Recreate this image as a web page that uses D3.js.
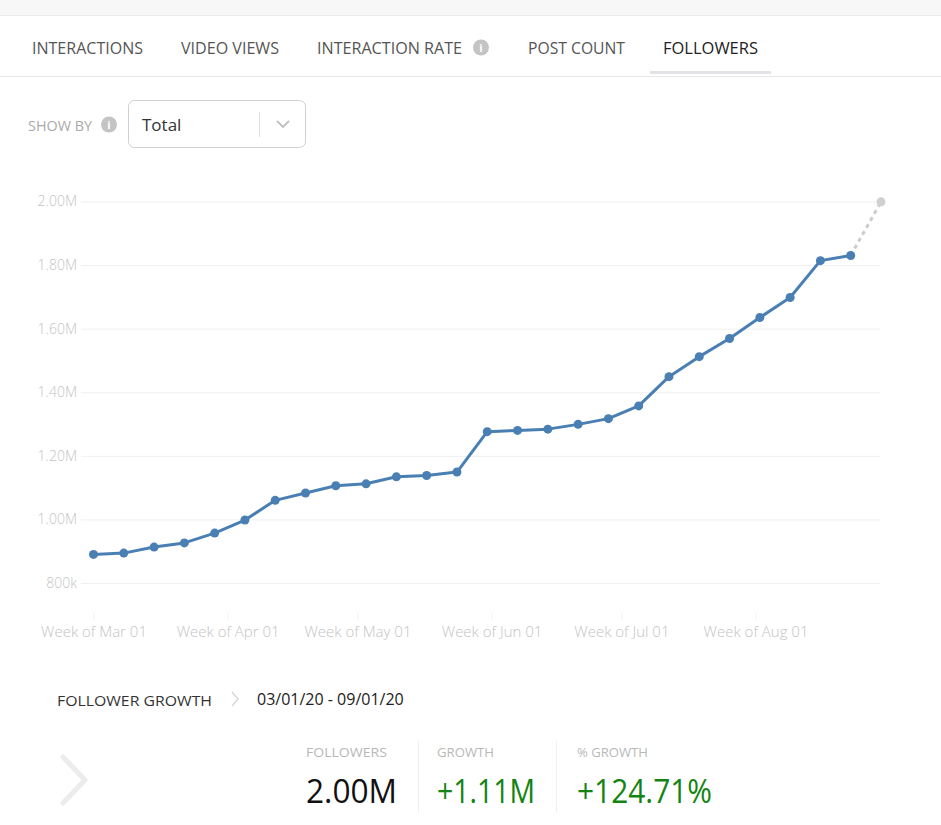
<!DOCTYPE html>
<html><head><meta charset="utf-8">
<script src="https://cdn.jsdelivr.net/npm/d3@7"></script>
<style>
html,body{margin:0;padding:0;background:#fff;}
svg{display:block;font-family:"Open Sans",sans-serif;}
</style></head>
<body>
<svg id="c" width="941" height="825"></svg>
<script>
// ---- data ----
const weekStarts = ["2020-03-01","2020-03-08","2020-03-15","2020-03-22","2020-03-29","2020-04-05","2020-04-12","2020-04-19","2020-04-26","2020-05-03","2020-05-10","2020-05-17","2020-05-24","2020-05-31","2020-06-07","2020-06-14","2020-06-21","2020-06-28","2020-07-05","2020-07-12","2020-07-19","2020-07-26","2020-08-02","2020-08-09","2020-08-16","2020-08-23"];
const followers = [890000,894000,913000,926000,957000,998000,1060000,1083000,1106000,1112000,1134000,1138000,1149000,1276000,1280000,1284000,1299000,1317000,1357000,1449000,1512000,1569000,1635000,1698000,1814000,1830000];
const projectedDate = "2020-08-30";
const projectedValue = 1999000;
const yTicks = [800000,1000000,1200000,1400000,1600000,1800000,2000000];
const xTickDates = ["2020-03-01","2020-04-01","2020-05-01","2020-06-01","2020-07-01","2020-08-01"];
const tabs = ["INTERACTIONS","VIDEO VIEWS","INTERACTION RATE","POST COUNT","FOLLOWERS"];
const statLabels = ["FOLLOWERS","GROWTH","% GROWTH"];
const statValues = ["2.00M","+1.11M","+124.71%"];

const parse = d3.timeParse("%Y-%m-%d");
const svg = d3.select("#c");

// ---- top chrome ----
svg.append("rect").attr("x",0).attr("y",0).attr("width",941).attr("height",15).attr("fill","#f7f7f7");
svg.append("line").attr("x1",0).attr("x2",941).attr("y1",15.5).attr("y2",15.5).attr("stroke","#ebebeb");
svg.append("line").attr("x1",0).attr("x2",941).attr("y1",76.5).attr("y2",76.5).attr("stroke","#e8e8e8");

const tabX = [32,181,317,528,663];
const tabW = [111,98,145,97,95];
tabs.forEach((t,i)=>{
  svg.append("text").attr("x",tabX[i]).attr("y",54).attr("font-size",16)
    .attr("textLength",tabW[i]).attr("lengthAdjust","spacingAndGlyphs")
    .attr("fill", i===4 ? "#222" : "#555").text(t);
});
function infoIcon(cx,cy,r){
  svg.append("circle").attr("cx",cx).attr("cy",cy).attr("r",r).attr("fill","#c4c4c4");
  svg.append("text").attr("x",cx).attr("y",cy+4).attr("text-anchor","middle").attr("font-size",11)
    .attr("font-weight","bold").attr("fill","#fff").text("i");
}
infoIcon(481,47.5,8);
svg.append("rect").attr("x",650).attr("y",71).attr("width",121).attr("height",3).attr("fill","#e1e3e7");

// show by
svg.append("text").attr("x",28).attr("y",131).attr("font-size",14).attr("fill","#aaa")
  .attr("textLength",64).attr("lengthAdjust","spacingAndGlyphs").text("SHOW BY");
infoIcon(109,124.5,8);
svg.append("rect").attr("x",128.5).attr("y",100.5).attr("width",177).attr("height",47).attr("rx",6)
  .attr("fill","#fff").attr("stroke","#cfcfcf");
svg.append("text").attr("x",142).attr("y",131).attr("font-size",17).attr("fill","#333").text("Total");
svg.append("line").attr("x1",259.5).attr("x2",259.5).attr("y1",112).attr("y2",137).attr("stroke","#ddd");
svg.append("path").attr("d","M277,121 L283,127 L289,121").attr("fill","none").attr("stroke","#c0c0c0").attr("stroke-width",1.8);

// ---- chart ----
const x = d3.scaleTime().domain([parse(weekStarts[0]), parse(projectedDate)]).range([93.5, 881]);
const y = d3.scaleLinear().domain([800000, 2000000]).range([583, 201.5]);

const fmt = v => v < 1000000 ? (v/1000) + "k" : (v/1000000).toFixed(2) + "M";

const yAxis = d3.axisLeft(y).tickValues(yTicks).tickSize(-(880-81)).tickFormat(fmt).tickPadding(4);
const gy = svg.append("g").attr("transform","translate(81,0)").call(yAxis);
gy.select(".domain").remove();
gy.selectAll(".tick line").attr("stroke","#f0f0f0");
gy.selectAll(".tick text").attr("fill","#c4c4c4").attr("font-size",14).attr("font-family","Open Sans, sans-serif").attr("font-weight",300);

const xAxis = d3.axisBottom(x).tickValues(xTickDates.map(parse)).tickFormat(d3.timeFormat("Week of %b %d")).tickSize(7).tickPadding(6);
const gx = svg.append("g").attr("transform","translate(0,613)").call(xAxis);
gx.select(".domain").remove();
gx.selectAll(".tick line").attr("stroke","#f2f2f2");
gx.selectAll(".tick text").attr("fill","#c4c4c4").attr("font-size",15).attr("font-family","Open Sans, sans-serif").attr("font-weight",300);

const pts = weekStarts.map((d,i)=>({date:parse(d), v:followers[i]}));
const last = pts[pts.length-1];
const proj = {date:parse(projectedDate), v:projectedValue};

svg.append("path").datum([last,proj])
  .attr("d", d3.line().x(d=>x(d.date)).y(d=>y(d.v)))
  .attr("fill","none").attr("stroke","#cccccc").attr("stroke-width",3).attr("stroke-dasharray","4,4");
svg.append("circle").attr("cx",x(proj.date)).attr("cy",y(proj.v)).attr("r",4.5).attr("fill","#d0d0d0");

svg.append("path").datum(pts)
  .attr("d", d3.line().x(d=>x(d.date)).y(d=>y(d.v)))
  .attr("fill","none").attr("stroke","#4a7fb3").attr("stroke-width",3).attr("stroke-linejoin","round");
svg.selectAll("circle.pt").data(pts).enter().append("circle").attr("class","pt")
  .attr("cx",d=>x(d.date)).attr("cy",d=>y(d.v)).attr("r",4.5).attr("fill","#4a7fb3");

// ---- bottom summary ----
svg.append("text").attr("x",57).attr("y",706).attr("font-size",15).attr("fill","#333")
  .attr("textLength",155).attr("lengthAdjust","spacingAndGlyphs").text("FOLLOWER GROWTH");
svg.append("path").attr("d","M232,692 L238,699 L232,706").attr("fill","none").attr("stroke","#d5d5d5").attr("stroke-width",1.3);
svg.append("text").attr("x",257).attr("y",705).attr("font-size",16).attr("fill","#222").text("03/01/20 - 09/01/20");

svg.append("path").attr("d","M63,757 L85,780 L63,803").attr("fill","none").attr("stroke","#ececec").attr("stroke-width",5).attr("stroke-linecap","round").attr("stroke-linejoin","round");

const statX = [306,437,577];
const statLW = [81,57,71];
const statVW = [91,98,135];
const statColors = ["#111","#138413","#138413"];
statLabels.forEach((l,i)=>{
  svg.append("text").attr("x",statX[i]).attr("y",757).attr("font-size",13.5).attr("fill","#b8b8b8")
    .attr("textLength",statLW[i]).attr("lengthAdjust","spacingAndGlyphs").text(l);
  svg.append("text").attr("x",statX[i]).attr("y",803).attr("font-size",32).attr("fill",statColors[i])
    .attr("textLength",statVW[i]).attr("lengthAdjust","spacingAndGlyphs").text(statValues[i]);
});
[418.5,556.5].forEach(xx=>{
  svg.append("line").attr("x1",xx).attr("x2",xx).attr("y1",741).attr("y2",812).attr("stroke","#efefef");
});
</script>
</body></html>
